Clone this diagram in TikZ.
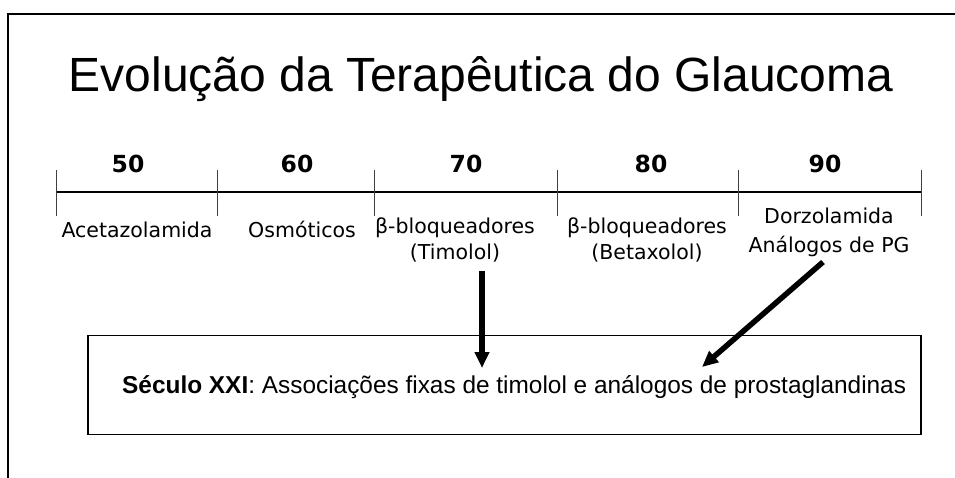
\documentclass[tikz,border=0pt]{standalone}
\usepackage{fontspec}
\setmainfont{Liberation Sans}
\newfontfamily\verd{DejaVu Sans}
\usetikzlibrary{arrows.meta}
\tikzset{
  frameline/.style={line width=1.7pt},
  axisline/.style={line width=1.6pt},
  tickline/.style={line width=0.8pt, black!75},
  yearlbl/.style={font=\verd\bfseries\fontsize{23.5}{27}\selectfont, anchor=base, inner sep=0pt},
  druglbl/.style={font=\verd\fontsize{20.5}{26}\selectfont, anchor=base, align=center, inner sep=0pt},
  bigarrow/.style={line width=5.5pt, -{Triangle[length=16pt,width=14pt]}},
  resultbox/.style={draw, line width=1.5pt, minimum width=833pt, minimum height=99pt, inner sep=0pt}
}
\begin{document}
\begin{tikzpicture}[x=1pt,y=-1pt]
\useasboundingbox (0,0) rectangle (955,477);
% outer frame
\draw[frameline] (958,14) -- (8,14) -- (8,480);
% title
\node[font=\fontsize{48}{56}\selectfont, anchor=base, inner sep=0pt] (title) at (481,91) {Evolução da Terapêutica do Glaucoma};
% timeline
\coordinate (t0) at (56,192);
\coordinate (t5) at (921,192);
\draw[axisline] (t0) -- (t5);
\foreach \x/\n in {56/0,217/1,374/2,557/3,738/4,921/5}{
  \coordinate (tk\n a) at (\x,170);
  \coordinate (tk\n b) at (\x,216);
  \draw[tickline] (tk\n a) -- (tk\n b);
}
% years
\node[yearlbl] (y50) at (128,172) {50};
\node[yearlbl] (y60) at (297,172) {60};
\node[yearlbl] (y70) at (466,172) {70};
\node[yearlbl] (y80) at (651,172) {80};
\node[yearlbl] (y90) at (825,172) {90};
% drug labels
\node[druglbl] (l50) at (137,237) {Acetazolamida};
\node[druglbl] (l60) at (302,237) {Osmóticos};
\node[druglbl] (l70) at (455,259) {β-bloqueadores\\(Timolol)};
\node[druglbl] (l80) at (647,259) {β-bloqueadores\\(Betaxolol)};
\node[druglbl, font=\verd\fontsize{20.5}{29}\selectfont] (l90) at (829,252) {Dorzolamida\\Análogos de PG};
% result box
\node[resultbox] (box) at (504.5,385) {};
\node[font=\fontsize{24.4}{29}\selectfont, anchor=base west, inner sep=0pt] (boxtext) at (122,393) {\textbf{Século XXI}: Associações fixas de timolol e análogos de prostaglandinas};
% arrows
\coordinate (a70s) at (482,271);
\coordinate (a70e) at (482,368);
\coordinate (a90s) at (823,262);
\coordinate (a90e) at (702,367);
\draw[bigarrow] (a70s) -- (a70e);
\draw[bigarrow] (a90s) -- (a90e);
\end{tikzpicture}
\end{document}
